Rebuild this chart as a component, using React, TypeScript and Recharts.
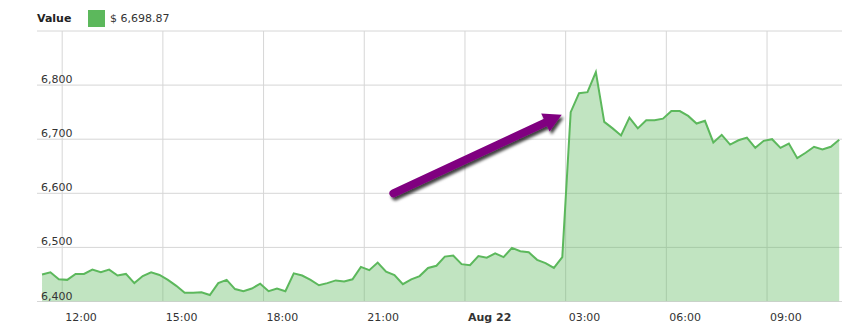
import { AreaChart, Area, XAxis, YAxis, CartesianGrid, ReferenceLine } from "recharts"

document.body.style.margin = "0"

// minutes after 11:00 Aug 21 of the first sample, 15 min apart
const startMinute = 24
const stepMinutes = 15

const values = [
  6450, 6454, 6441, 6440, 6451, 6451, 6459, 6454, 6459, 6448, 6451, 6434,
  6447, 6454, 6449, 6440, 6429, 6416, 6416, 6417, 6412, 6434, 6440, 6423,
  6419, 6424, 6433, 6419, 6424, 6419, 6452, 6448, 6440, 6430, 6434, 6439,
  6437, 6441, 6464, 6458, 6472, 6455, 6449, 6432, 6441, 6447, 6462, 6466,
  6483, 6485, 6469, 6467, 6484, 6481, 6489, 6482, 6499, 6493, 6491, 6477,
  6471, 6462, 6482, 6750, 6785, 6787, 6824, 6732, 6720, 6707, 6740, 6720,
  6735, 6735, 6738, 6752, 6752, 6743, 6729, 6734, 6694, 6708, 6690, 6698,
  6703, 6684, 6697, 6700, 6684, 6692, 6665, 6675, 6686, 6681, 6686, 6698.87,
]

const xTicks = [60, 240, 420, 600, 780, 960, 1140, 1320]
const xTickLabels = ["12:00", "15:00", "18:00", "21:00", "Aug 22", "03:00", "06:00", "09:00"]
const yTicks = [6400, 6500, 6600, 6700, 6800, 6900]

// arrow annotation, in data units (minute, value)
const arrowFrom = { t: 652, v: 6600 }
const arrowTo = { t: 953, v: 6745 }

const lastValue = values[values.length - 1]

const data = values.map((v, i) => ({ t: startMinute + i * stepMinutes, v }))

const FONT = "'DejaVu Sans', Verdana, sans-serif"
const GREEN = "#5cb85c"

function XTick(props: any) {
  const { x, y, payload } = props
  const i = xTicks.indexOf(payload.value)
  const label = xTickLabels[i] ?? ""
  return (
    <text x={x + 3} y={y + 11} fontSize={11} fontFamily={FONT} fill="#333"
      fontWeight={label.startsWith("Aug") ? "bold" : "normal"} textAnchor="start">
      {label}
    </text>
  )
}

function YTick(props: any) {
  const { y, payload } = props
  if (payload.value >= 6900) return <g />
  return (
    <text x={41} y={y - 2} fontSize={11} fontFamily={FONT} fill="#333" textAnchor="start">
      {payload.value.toLocaleString("en-US")}
    </text>
  )
}

function Arrow(props: any) {
  const { x1, y1, x2, y2 } = props
  const dx = x2 - x1
  const dy = y2 - y1
  const len = Math.sqrt(dx * dx + dy * dy)
  const ux = dx / len
  const uy = dy / len
  const headLen = 18
  const headHalf = 10
  const bx = x2 - ux * headLen
  const by = y2 - uy * headLen
  const pts = [
    `${x2},${y2}`,
    `${bx - uy * headHalf},${by + ux * headHalf}`,
    `${bx + uy * headHalf},${by - ux * headHalf}`,
  ].join(" ")
  return (
    <g filter="url(#arrowShadow)">
      <defs>
        <filter id="arrowShadow" x="-20%" y="-40%" width="140%" height="180%">
          <feDropShadow dx="2" dy="3" stdDeviation="1.6" floodColor="#000" floodOpacity="0.75" />
        </filter>
      </defs>
      <line x1={x1} y1={y1} x2={bx + ux * 2} y2={by + uy * 2} stroke="#800080" strokeWidth={8} strokeLinecap="round" />
      <polygon points={pts} fill="#800080" />
    </g>
  )
}

export default function App() {
  return (
    <div style={{ position: "relative", width: 845, height: 331, fontFamily: FONT, background: "#fff" }}>
      {/* Legend */}
      <div style={{ position: "absolute", left: 37, top: 10, display: "flex", alignItems: "center", fontSize: 11, color: "#222", zIndex: 2 }}>
        <span style={{ fontWeight: "bold", width: 51 }}>Value</span>
        <span style={{ width: 17, height: 17, background: GREEN, display: "inline-block", marginRight: 5 }} />
        <span style={{ color: "#333" }}>$ {lastValue.toLocaleString("en-US", { minimumFractionDigits: 2 })}</span>
      </div>
      <AreaChart width={845} height={331} data={data} margin={{ top: 31, right: 3, bottom: 0, left: 36 }}>
        <CartesianGrid stroke="#d6d6d6" horizontalValues={yTicks} verticalValues={xTicks} />
        <XAxis
          dataKey="t"
          type="number"
          domain={[15, 1454]}
          ticks={xTicks}
          tick={<XTick />}
          tickLine={false}
          axisLine={false}
          height={29.5}
          interval={0}
          allowDataOverflow
        />
        <YAxis
          type="number"
          domain={[6400, 6900]}
          ticks={yTicks}
          tick={<YTick />}
          tickLine={false}
          axisLine={false}
          width={1}
          interval={0}
          allowDataOverflow
        />
        <Area
          type="linear"
          dataKey="v"
          stroke={GREEN}
          strokeWidth={2}
          fill={GREEN}
          fillOpacity={0.38}
          dot={false}
          activeDot={false}
          isAnimationActive={false}
        />
        <ReferenceLine
          segment={[{ x: arrowFrom.t, y: arrowFrom.v }, { x: arrowTo.t, y: arrowTo.v }]}
          shape={<Arrow />}
          ifOverflow="visible"
        />
      </AreaChart>
    </div>
  )
}
